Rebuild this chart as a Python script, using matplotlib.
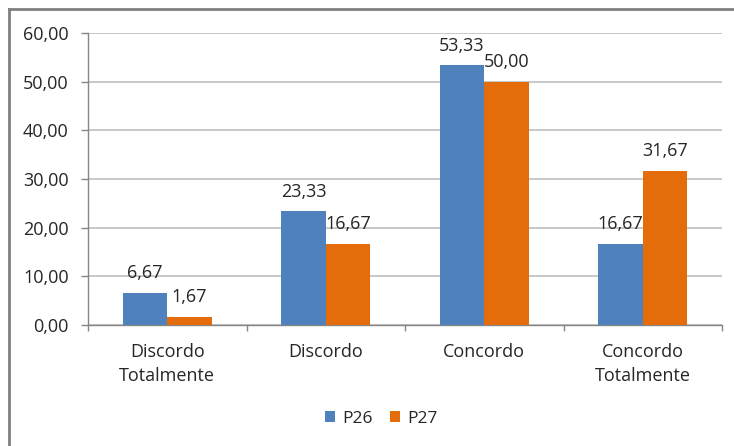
import matplotlib
matplotlib.use("Agg")
import matplotlib.pyplot as plt
import numpy as np

categories = ["Discordo\nTotalmente", "Discordo", "Concordo", "Concordo\nTotalmente"]
series_names = ["P26", "P27"]
p26 = [6.67, 23.33, 53.33, 16.67]
p27 = [1.67, 16.67, 50.00, 31.67]
yticks = [0, 10, 20, 30, 40, 50, 60]

plt.rcParams['font.family'] = ['Open Sans', 'DejaVu Sans']

fig = plt.figure(figsize=(7.34, 4.46), dpi=100)
ax = fig.add_axes([88/734, 1-325/446, (722-88)/734, (325-33)/446])

x = np.arange(len(categories))
w = 0.281
blue = "#4F81BD"
orange = "#E46C0A"
txt = "#262626"
fs = 13
b1 = ax.bar(x - w/2, p26, w, color=blue, label=series_names[0], zorder=3)
b2 = ax.bar(x + w/2, p27, w, color=orange, label=series_names[1], zorder=3)

def fmt(v):
    return f"{v:.2f}".replace(".", ",")

for bars, vals in ((b1, p26), (b2, p27)):
    for r, v in zip(bars, vals):
        ax.annotate(fmt(v), (r.get_x() + r.get_width()/2, v), xytext=(0, 7.5),
                    textcoords="offset points", ha="center", va="bottom",
                    fontsize=fs, color=txt, zorder=4)

ax.set_xlim(-0.5, len(categories) - 0.5)
ax.set_ylim(0, 60)
ax.set_yticks(yticks)
ax.set_yticklabels([fmt(v) for v in yticks], fontsize=fs, color=txt)
ax.set_xticks(x)
ax.set_xticklabels(categories, fontsize=fs, color=txt, linespacing=1.45)
ax.tick_params(axis="x", length=0, pad=13)
ax.set_xticks(np.arange(-0.5, len(categories)), minor=True)
ax.tick_params(axis="x", which="minor", length=4, color="#868686", width=1)
ax.tick_params(axis="y", length=5, color="#868686", width=1, pad=9)

ax.yaxis.grid(True, color="#BFBFBF", linewidth=1.2, zorder=0)
ax.set_axisbelow(True)
for s in ("top", "right"):
    ax.spines[s].set_visible(False)
for s in ("left", "bottom"):
    ax.spines[s].set_color("#868686")
    ax.spines[s].set_linewidth(1)

leg = fig.legend(handles=[b1, b2], labels=series_names, loc="center",
                 bbox_to_anchor=(381/734, 1-419/446), ncol=2, frameon=False,
                 fontsize=12.5, handlelength=0.6, handleheight=0.6,
                 handletextpad=0.4, columnspacing=1.0)
for t in leg.get_texts():
    t.set_color(txt)

# outer chart frame (left and top edges visible)
fig.add_artist(plt.Line2D([9/734, 9/734], [0, 1-9/446], transform=fig.transFigure,
                          color="#808080", linewidth=2))
fig.add_artist(plt.Line2D([9/734, 1], [1-9/446, 1-9/446], transform=fig.transFigure,
                          color="#808080", linewidth=2))

fig.savefig("out.png", dpi=100)
